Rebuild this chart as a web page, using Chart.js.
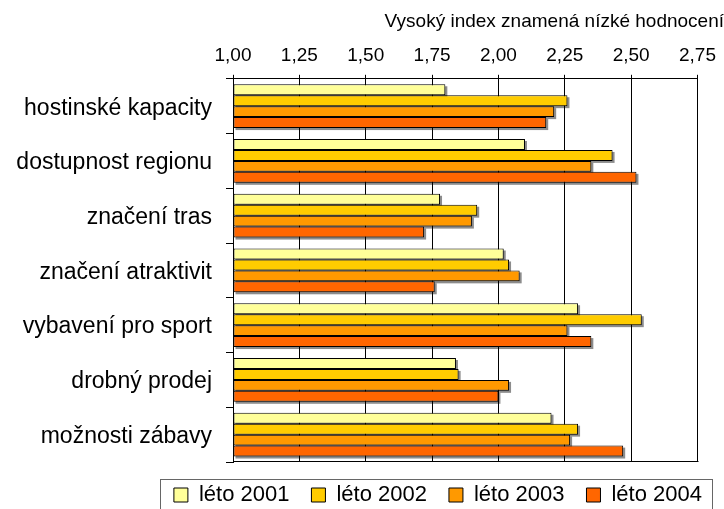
<!DOCTYPE html>
<html>
<head>
<meta charset="utf-8">
<script src="https://cdn.jsdelivr.net/npm/chart.js@4"></script>
<style>
  html, body { margin: 0; padding: 0; background: #fff; }
  #wrap { width: 724px; height: 509px; }
</style>
</head>
<body>
<div id="wrap"><canvas id="chart"></canvas></div>
<script>
const categories = ['hostinské kapacity', 'dostupnost regionu', 'značení tras', 'značení atraktivit', 'vybavení pro sport', 'drobný prodej', 'možnosti zábavy'];
const seriesNames = ['léto 2001', 'léto 2002', 'léto 2003', 'léto 2004'];
const leto2001 = [1.80, 2.10, 1.78, 2.02, 2.30, 1.84, 2.20];
const leto2002 = [2.26, 2.43, 1.92, 2.04, 2.54, 1.85, 2.30];
const leto2003 = [2.21, 2.35, 1.90, 2.08, 2.26, 2.04, 2.27];
const leto2004 = [2.18, 2.52, 1.72, 1.76, 2.35, 2.00, 2.47];
const axisMin = 1, axisMax = 2.75, axisStep = 0.25;
const axisTitle = 'Vysoký index znamená nízké hodnocení';

const colors = ['#FFFF99', '#FFCC00', '#FF9900', '#FF6600'];
const FONT = "'Liberation Sans', Arial, sans-serif";

// gray drop shadow behind each bar
const barShadow = {
  id: 'barShadow',
  beforeDatasetsDraw(chart) {
    const ctx = chart.ctx;
    const a = chart.chartArea;
    ctx.save();
    ctx.beginPath();
    ctx.rect(a.left, a.top, a.right - a.left + 4, a.bottom - a.top);
    ctx.clip();
    ctx.fillStyle = 'rgba(0,0,0,0.45)';
    chart.data.datasets.forEach((ds, i) => {
      chart.getDatasetMeta(i).data.forEach(bar => {
        const { x, y, base, height } = bar.getProps(['x', 'y', 'base', 'height'], true);
        ctx.fillRect(Math.min(base, x) + 2, y - height / 2 + 2, Math.abs(x - base), height);
      });
    });
    ctx.restore();
  }
};

// frame round plot area + box round legend
const frames = {
  id: 'frames',
  afterDraw(chart) {
    const ctx = chart.ctx;
    const a = chart.chartArea;
    ctx.save();
    ctx.strokeStyle = '#000';
    ctx.lineWidth = 1;
    ctx.beginPath();
    ctx.moveTo(Math.round(a.left) + 0.5, Math.round(a.bottom) - 0.5);
    ctx.lineTo(Math.round(a.right) + 0.5, Math.round(a.bottom) - 0.5);
    ctx.stroke();

    const hb = chart.legend.legendHitBoxes;
    if (hb && hb.length) {
      const left = hb[0].left - 14;
      const right = hb[hb.length - 1].left + hb[hb.length - 1].width + 10;
      const mid = hb[0].top + hb[0].height / 2;
      ctx.strokeStyle = '#666';
      ctx.strokeRect(Math.round(left) + 0.5, Math.round(mid - 16) + 0.5, Math.round(right - left), 30);
    }
    ctx.restore();
  }
};

new Chart(document.getElementById('chart'), {
  type: 'bar',
  data: {
    labels: categories,
    datasets: [leto2001, leto2002, leto2003, leto2004].map((d, i) => ({
      label: seriesNames[i],
      data: d,
      base: axisMin,
      backgroundColor: colors[i],
      borderColor: '#000',
      borderWidth: 1,
      borderSkipped: false,
      categoryPercentage: 0.8,
      barPercentage: 1.0
    }))
  },
  options: {
    indexAxis: 'y',
    responsive: true,
    maintainAspectRatio: false,
    animation: false,
    layout: { padding: { left: 0, right: 0, top: 0, bottom: -7 } },
    plugins: {
      title: {
        display: true,
        text: axisTitle,
        align: 'end',
        color: '#000',
        font: { family: FONT, size: 19, weight: 'normal' },
        padding: { top: 10, bottom: 0 }
      },
      legend: {
        position: 'bottom',
        align: 'end',
        labels: {
          color: '#000',
          font: { family: FONT, size: 22 },
          boxWidth: 14,
          boxHeight: 14,
          padding: 22
        }
      },
      tooltip: { enabled: false }
    },
    scales: {
      x: {
        type: 'linear',
        position: 'top',
        min: axisMin,
        max: axisMax,
        ticks: {
          stepSize: axisStep,
          color: '#000',
          padding: 8,
          font: { family: FONT, size: 19 },
          callback: v => v.toFixed(2).replace('.', ',')
        },
        grid: { color: '#000', lineWidth: 1, tickLength: 4 },
        border: { color: '#000' },
        afterFit: s => { s.height = 46; }
      },
      y: {
        type: 'category',
        position: 'left',
        ticks: {
          color: '#000',
          padding: 14,
          labelOffset: 2,
          font: { family: FONT, size: 23 }
        },
        grid: { display: true, drawOnChartArea: false, offset: true, tickLength: 7, color: '#000' },
        border: { color: '#000' },
        afterFit: s => { s.width = 233; }
      },
      yR: {
        type: 'linear',
        position: 'right',
        display: true,
        grid: { display: false, drawTicks: false },
        ticks: { display: false },
        border: { display: false },
        afterFit: s => { s.width = 26; }
      }
    }
  },
  plugins: [barShadow, frames]
});
</script>
</body>
</html>
